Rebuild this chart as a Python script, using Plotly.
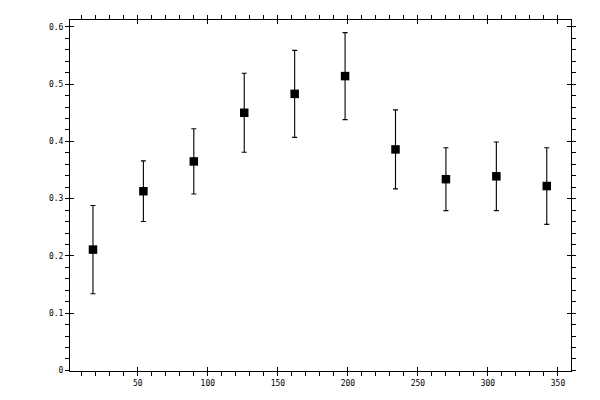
import plotly.graph_objects as go

x_vals = [18, 54, 90, 126, 162, 198, 234, 270, 306, 342]
y_vals = [0.211, 0.313, 0.365, 0.450, 0.483, 0.514, 0.386, 0.334, 0.339, 0.322]
y_err = [0.077, 0.053, 0.057, 0.069, 0.076, 0.076, 0.069, 0.055, 0.060, 0.067]

x_range = [1.6, 359.3]
y_range = [-0.001, 0.612]

fig = go.Figure()
fig.add_trace(go.Scatter(
    x=x_vals, y=y_vals, mode="markers",
    marker=dict(symbol="square", size=8.5, color="black"),
    error_y=dict(type="data", array=y_err, visible=True, color="black",
                 thickness=1.1, width=2.5),
    showlegend=False, cliponaxis=False,
))
# invisible companion trace so the inside-tick overlay axes exist
fig.add_trace(go.Scatter(
    x=x_vals, y=y_vals, mode="markers", marker=dict(opacity=0),
    xaxis="x2", yaxis="y2", showlegend=False, hoverinfo="skip",
))

font = dict(family="DejaVu Sans Mono", size=8, color="black")
common = dict(showgrid=False, zeroline=False, tickcolor="black", tickwidth=1,
              automargin=False)

fig.update_layout(
    width=600, height=400,
    margin=dict(l=62, r=37, t=12, b=37),
    paper_bgcolor="white", plot_bgcolor="white",
    font=font,
    xaxis=dict(range=x_range, tick0=0, dtick=50, ticks="outside", ticklen=4,
               minor=dict(ticks="outside", ticklen=4, dtick=10, tickcolor="black"),
               showline=True, linecolor="black", linewidth=1, mirror="allticks",
               tickfont=font, **common),
    yaxis=dict(range=y_range, tick0=0, dtick=0.1, ticks="outside", ticklen=4,
               minor=dict(ticks="outside", ticklen=4, dtick=0.02, tickcolor="black"),
               showline=True, linecolor="black", linewidth=1, mirror="allticks",
               tickfont=font, **common),
    xaxis2=dict(range=x_range, tick0=0, dtick=50, ticks="inside", ticklen=4,
                overlaying="x", side="bottom", showticklabels=False,
                showline=False, mirror="allticks", **common),
    yaxis2=dict(range=y_range, tick0=0, dtick=0.1, ticks="inside", ticklen=4,
                overlaying="y", side="left", showticklabels=False,
                showline=False, mirror="allticks", **common),
)

fig.write_html("out.html")
